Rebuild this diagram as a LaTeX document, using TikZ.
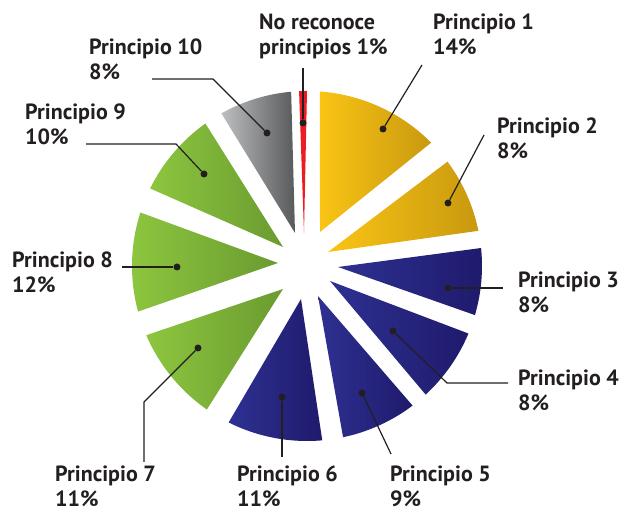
\documentclass[tikz,border=0pt]{standalone}
\usepackage{fontspec}
\setmainfont{PT Sans}
\usepackage[usenames,dvipsnames]{xcolor}
\usepackage{tikz}
\definecolor{ink}{HTML}{231F20}
\definecolor{yelA}{HTML}{FAC415}
\definecolor{yelB}{HTML}{C8990F}
\definecolor{bluA}{HTML}{2E3192}
\definecolor{bluB}{HTML}{1F1A6C}
\definecolor{grnA}{HTML}{8DC63F}
\definecolor{grnB}{HTML}{6A9B30}
\definecolor{gryA}{HTML}{BDBFC1}
\definecolor{gryB}{HTML}{58595B}
\definecolor{redA}{HTML}{ED1C24}

\begin{document}
\begin{tikzpicture}[x=1pt,y=1pt,
  lbl/.style={anchor=base west,align=left,inner sep=0pt,text=ink,font=\fontsize{22}{25}\selectfont\bfseries},
  dot/.style={circle,fill=ink,inner sep=0pt,minimum size=7pt},
  lead/.style={draw=ink,line width=1.2pt},
  yel/.style={left color=yelA,right color=yelB},
  blu/.style={left color=bluA,right color=bluB},
  grn/.style={left color=grnA,right color=grnB},
  gry/.style={left color=gryA,right color=gryB}]
\useasboundingbox (0,0) rectangle (622,513);
\coordinate (c) at (307,247);
\begin{scope}[shift={(c)}]
 \shade[yel] (13,34) -- (85.75:175) arc (85.75:44.8:175) -- cycle;
 \shade[yel] (21,14) -- (36.6:175) arc (36.6:11.6:175) -- cycle;
 \shade[blu] (31,-1) -- (5.9:175) arc (5.9:-16.3:175) -- cycle;
 \shade[blu] (23,-15) -- (-22.7:175) arc (-22.7:-47.3:175) -- cycle;
 \shade[blu] (11,-30) -- (-52.9:175) arc (-52.9:-78.1:175) -- cycle;
 \shade[blu] (-6,-33) -- (-85:175) arc (-85:-116.6:175) -- cycle;
 \shade[grn] (-24,-23) -- (-124.9:175) arc (-124.9:-156.7:175) -- cycle;
 \shade[grn] (-29,3) -- (-164.9:175) arc (-164.9:-197.8:175) -- cycle;
 \shade[grn] (-24,19) -- (153.7:175) arc (153.7:125.5:175) -- cycle;
 \shade[gry] (-12,33) -- (119.3:175) arc (119.3:95.2:175) -- cycle;
 \fill[redA] (-3,33) -- (92.6:175) arc (92.6:90:175) -- cycle;
\end{scope}

\node[dot] (d0) at (303,390) {};
\node[dot] (d1) at (383,384) {};
\node[dot] (d2) at (448,310) {};
\node[dot] (d3) at (448,225) {};
\node[dot] (d4) at (393,182) {};
\node[dot] (d5) at (362,120) {};
\node[dot] (d6) at (282,116) {};
\node[dot] (d7) at (198,165) {};
\node[dot] (d8) at (177,246) {};
\node[dot] (d9) at (204,339) {};
\node[dot] (d10) at (267,380) {};

\coordinate (e0) at (303,445);
\coordinate (e1) at (422,448);
\coordinate (e2) at (484,378);
\coordinate (e3) at (503,225);
\coordinate (b4) at (447,130);
\coordinate (e4) at (508,130);
\coordinate (e5) at (391,59);
\coordinate (e6) at (282,56);
\coordinate (b7) at (144,111);
\coordinate (e7) at (144,51);
\coordinate (e8) at (122,246);
\coordinate (b9) at (176,369);
\coordinate (e9) at (86,369);
\coordinate (b10) at (213,434);
\coordinate (e10) at (152,434);

\draw[lead] (d0) -- (e0);
\draw[lead] (d1) -- (e1);
\draw[lead] (d2) -- (e2);
\draw[lead] (d3) -- (e3);
\draw[lead] (d4) -- (b4) -- (e4);
\draw[lead] (d5) -- (e5);
\draw[lead] (d6) -- (e6);
\draw[lead] (d7) -- (b7) -- (e7);
\draw[lead] (d8) -- (e8);
\draw[lead] (d9) -- (b9) -- (e9);
\draw[lead] (d10) -- (b10) -- (e10);

\node[lbl] (l0) at (259,458) {No reconoce\\principios 1\%};
\node[lbl] (l1) at (433,458) {Principio 1\\14\%};
\node[lbl] (l2) at (497,354) {Principio 2\\8\%};
\node[lbl] (l3) at (518,200) {Principio 3\\8\%};
\node[lbl] (l4) at (518,102) {Principio 4\\8\%};
\node[lbl] (l5) at (390,6) {Principio 5\\9\%};
\node[lbl] (l6) at (237,6) {Principio 6\\11\%};
\node[lbl] (l7) at (55,6) {Principio 7\\11\%};
\node[lbl] (l8) at (12,220) {Principio 8\\12\%};
\node[lbl] (l9) at (25,368) {Principio 9\\10\%};
\node[lbl] (l10) at (89,433) {Principio 10\\8\%};
\end{tikzpicture}
\end{document}
